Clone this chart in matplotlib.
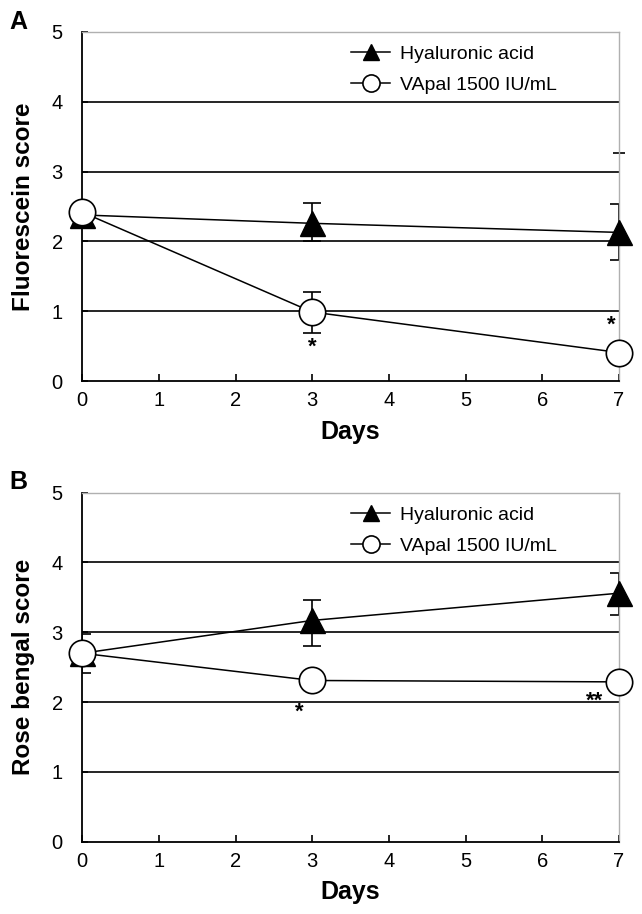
import matplotlib
matplotlib.use("Agg")
import matplotlib.pyplot as plt

plt.rcParams['font.family'] = ['Liberation Sans', 'DejaVu Sans']

days = [0, 3, 7]

# Panel A - fluorescein
ha_a = [2.38, 2.26, 2.13]
ha_a_lo = [0.0, 0.25, 0.39]
ha_a_hi = [0.0, 0.29, 0.40]
va_a = [2.42, 0.99, 0.41]
va_a_lo = [0.0, 0.30, 0.0]
va_a_hi = [0.0, 0.28, 0.0]
stray_a = (7, 3.27)
stars_a = [(3, 0.48, "*"), (6.9, 0.80, "*")]

# Panel B - rose bengal
ha_b = [2.70, 3.17, 3.56]
ha_b_lo = [0.28, 0.36, 0.31]
ha_b_hi = [0.28, 0.29, 0.29]
va_b = [2.70, 2.31, 2.29]
stars_b = [(2.83, 1.86, "*"), (6.68, 2.02, "**")]

xticks = list(range(8))
yticks = list(range(6))


def panel(ax, ha, ha_lo, ha_hi, va, va_lo, va_hi, ylabel, stars, letter, stray=None):
    for y in [1, 2, 3, 4]:
        ax.axhline(y, color="black", lw=1.2, zorder=1)
    ax.errorbar(days, ha, yerr=[ha_lo, ha_hi], fmt="none", ecolor="black",
                elinewidth=1.2, capsize=6.5, capthick=1.2, zorder=2)
    ax.plot(days, ha, color="black", lw=1.1, marker="^", ms=18,
            mfc="black", mec="black", label="Hyaluronic acid", zorder=3,
            clip_on=False)
    if va_lo is not None:
        ax.errorbar(days, va, yerr=[va_lo, va_hi], fmt="none", ecolor="black",
                    elinewidth=1.2, capsize=6.5, capthick=1.2, zorder=4)
    ax.plot(days, va, color="black", lw=1.1, marker="o", ms=19,
            mfc="white", mec="black", mew=1.2, label="VApal 1500 IU/mL", zorder=5,
            clip_on=False)
    if stray is not None:
        ax.plot([stray[0]], [stray[1]], marker="_", ms=9, mew=1.2, color="black",
                clip_on=False, zorder=2)
    for x, y, s in stars:
        ax.text(x, y, s, ha="center", va="center", fontsize=16, fontweight="bold")

    ax.set_xlim(0, 7)
    ax.set_ylim(0, 5)
    ax.set_xticks(xticks)
    ax.set_yticks(yticks)
    ax.tick_params(axis="both", direction="in", length=5, width=1.2,
                   labelsize=14.5, pad=7)
    ax.tick_params(axis="y", length=4, pad=14)
    for side in ["top", "right"]:
        ax.spines[side].set_color("#b0b0b0")
        ax.spines[side].set_linewidth(1.0)
    for side in ["left", "bottom"]:
        ax.spines[side].set_linewidth(1.3)
    ax.set_xlabel("Days", fontsize=18, fontweight="bold", labelpad=7)
    ax.set_ylabel(ylabel, fontsize=17.5, fontweight="bold", labelpad=12)
    ax.legend(loc="upper left", bbox_to_anchor=(0.48, 0.995), frameon=False,
              fontsize=14, markerscale=0.65, handlelength=2.0,
              handletextpad=0.5, labelspacing=0.7, borderaxespad=0.2)
    ax.text(-0.135, 1.03, letter, transform=ax.transAxes, fontsize=18,
            fontweight="bold", ha="left", va="center")


fig = plt.figure(figsize=(6.42, 9.14), dpi=100)
ax1 = fig.add_axes([0.128, 0.583, 0.836, 0.382])
ax2 = fig.add_axes([0.128, 0.079, 0.836, 0.382])

panel(ax1, ha_a, ha_a_lo, ha_a_hi, va_a, va_a_lo, va_a_hi,
      "Fluorescein score", stars_a, "A", stray=stray_a)
panel(ax2, ha_b, ha_b_lo, ha_b_hi, va_b, None, None,
      "Rose bengal score", stars_b, "B")

fig.savefig("out.png", dpi=100)
